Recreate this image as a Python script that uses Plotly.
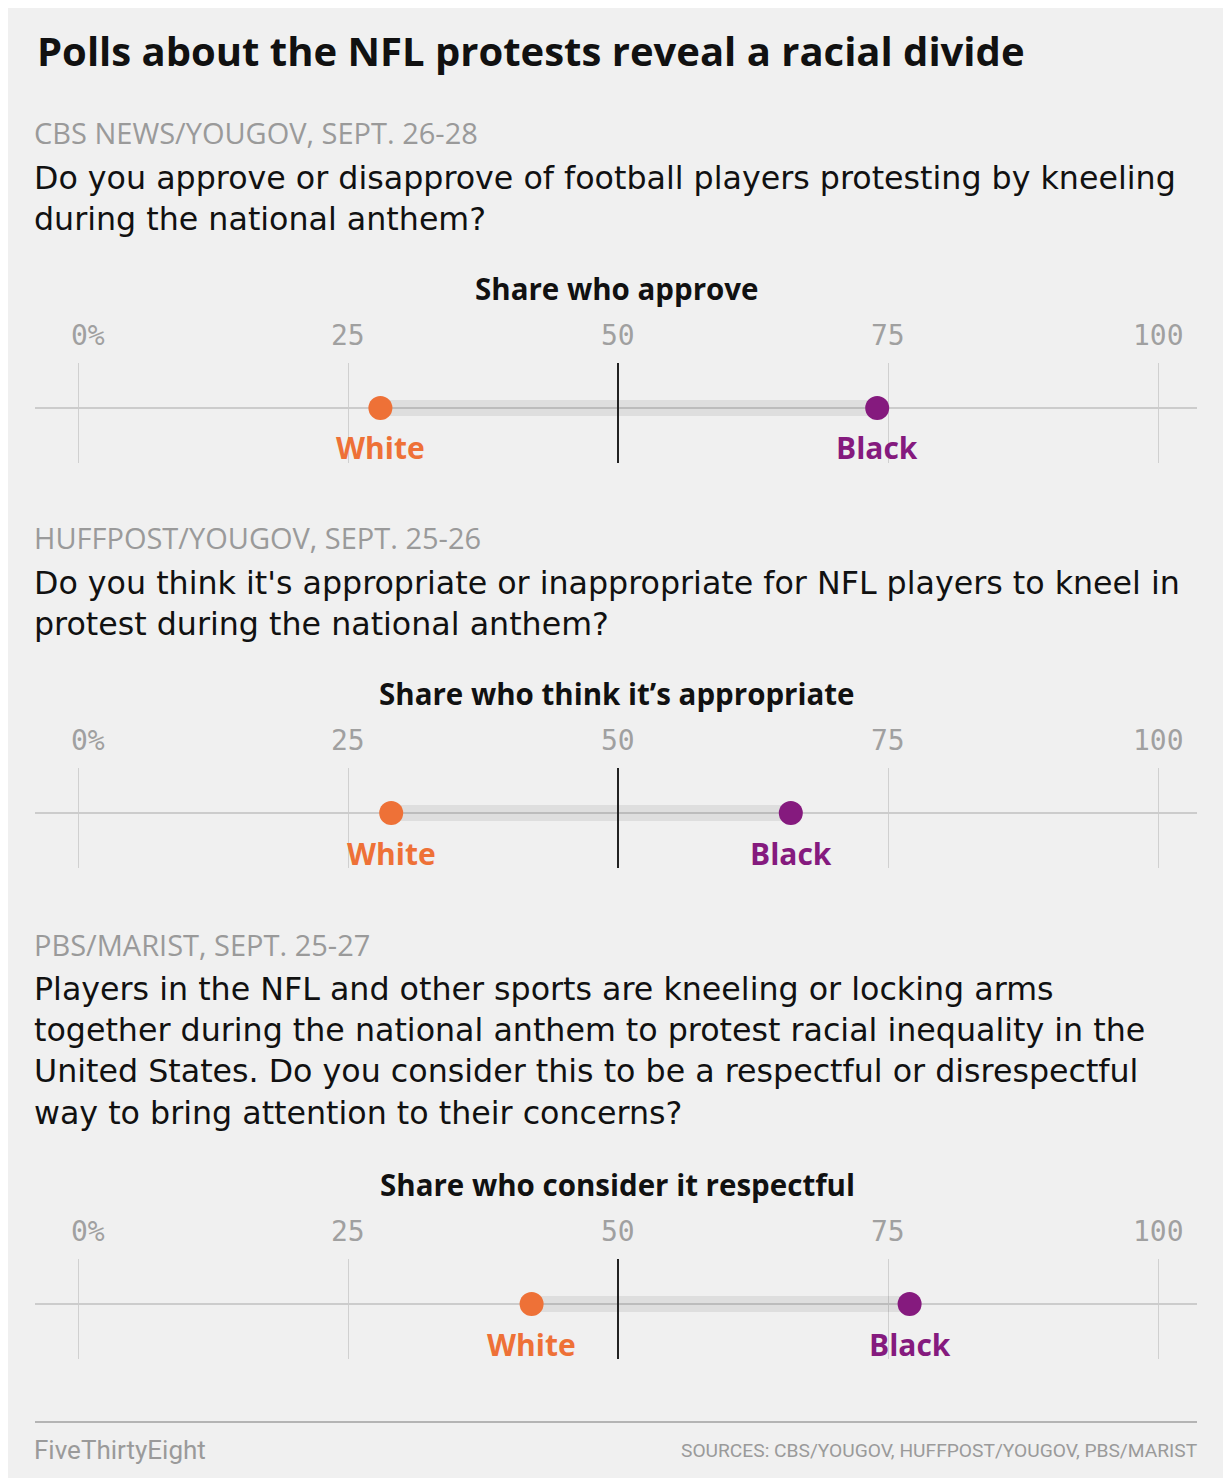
import plotly.graph_objects as go

# page is rendered with an 8px body margin; figure fills the rest of the window
OFF = 8
PAGE_W, PAGE_H = 1231, 1478
W, H = PAGE_W - OFF, PAGE_H - OFF

# ---------------- data ----------------
title = "Polls about the NFL protests reveal a racial divide"
sources = ["CBS NEWS/YOUGOV, SEPT. 26-28",
           "HUFFPOST/YOUGOV, SEPT. 25-26",
           "PBS/MARIST, SEPT. 25-27"]
questions = [
    ["Do you approve or disapprove of football players protesting by kneeling",
     "during the national anthem?"],
    ["Do you think it's appropriate or inappropriate for NFL players to kneel in",
     "protest during the national anthem?"],
    ["Players in the NFL and other sports are kneeling or locking arms",
     "together during the national anthem to protest racial inequality in the",
     "United States. Do you consider this to be a respectful or disrespectful",
     "way to bring attention to their concerns?"],
]
subtitles = ["Share who approve", "Share who think it\u2019s appropriate",
             "Share who consider it respectful"]
groups = ["White", "Black"]
white_share = [28, 29, 42]
black_share = [74, 66, 77]
tick_vals = [0, 25, 50, 75, 100]
tick_labels = ["0%", "25", "50", "75", "100"]
footer_left = "FiveThirtyEight"
footer_right = "SOURCES: CBS/YOUGOV, HUFFPOST/YOUGOV, PBS/MARIST"

# ---------------- style ----------------
BG = "#f0f0f0"
ORANGE = "#ee7137"
PURPLE = "#851a7e"
GRAY_TXT = "#9a9a9a"
TEXT_FONT = "Open Sans"
Q_FONT = "DejaVu Sans"
FOOT_FONT = "Roboto"
TICK_FONT = "DejaVu Sans Mono"


def fx(px):
    return (px - OFF) / W


def fy(py):
    return 1 - (py - OFF) / H


# pixel layout (page coords) of each section
sections = [
    dict(src=133, q=178, sub=288, tick=335, top=363),
    dict(src=538, q=583, sub=693, tick=740, top=768),
    dict(src=944, q=989, sub=1184, tick=1231, top=1259),
]
LINE_GAP = 41
GRID_H = 100

X0_PX, X100_PX = 78, 1158
PX_PER = (X100_PX - X0_PX) / 100.0
LEFT_PX, RIGHT_PX = 35, 1197
TEXT_X = 32

fig = go.Figure()
annotations = []
shapes = []

annotations.append(dict(text="<b>" + title + "</b>", x=fx(35), y=fy(50), xref="paper", yref="paper",
                        xanchor="left", yanchor="middle", showarrow=False,
                        font=dict(family=TEXT_FONT, size=40, color="#111")))

layout_axes = {}
for i, sec in enumerate(sections):
    n = i + 1
    xa = "x" if n == 1 else f"x{n}"
    ya = "y" if n == 1 else f"y{n}"
    top, bot = sec["top"], sec["top"] + GRID_H
    layout_axes[f"xaxis{'' if n == 1 else n}"] = dict(
        domain=[fx(LEFT_PX), fx(RIGHT_PX)],
        range=[(LEFT_PX - X0_PX) / PX_PER, (RIGHT_PX - X0_PX) / PX_PER],
        anchor=ya, tickmode="array", tickvals=tick_vals, showticklabels=False,
        ticks="", showgrid=True, gridcolor="#d0d0d0", gridwidth=1.2,
        zeroline=False, showline=False, fixedrange=True)
    layout_axes[f"yaxis{'' if n == 1 else n}"] = dict(
        domain=[fy(bot), fy(top)], range=[-1.1, 0.9], anchor=xa,
        showgrid=False, showticklabels=False, ticks="",
        zeroline=True, zerolinecolor="#cccccc", zerolinewidth=1.5,
        showline=False, fixedrange=True)

    # connecting bar
    fig.add_trace(go.Scatter(x=[white_share[i], black_share[i]], y=[0, 0], mode="lines",
                             line=dict(color="rgba(0,0,0,0.075)", width=16),
                             xaxis=xa, yaxis=ya, hoverinfo="skip", showlegend=False))
    # dots
    fig.add_trace(go.Scatter(x=[white_share[i]], y=[0], mode="markers", name=groups[0],
                             marker=dict(color=ORANGE, size=24, line=dict(width=0)),
                             xaxis=xa, yaxis=ya, showlegend=False))
    fig.add_trace(go.Scatter(x=[black_share[i]], y=[0], mode="markers", name=groups[1],
                             marker=dict(color=PURPLE, size=24, line=dict(width=0)),
                             xaxis=xa, yaxis=ya, showlegend=False))

    # 50% reference line
    shapes.append(dict(type="line", xref=xa, yref=f"{ya} domain", x0=50, x1=50, y0=0, y1=1,
                       line=dict(color="#222", width=2), layer="above"))

    # dot labels
    for val, lab, col in [(white_share[i], groups[0], ORANGE), (black_share[i], groups[1], PURPLE)]:
        annotations.append(dict(text="<b>" + lab + "</b>", x=val, y=0, xref=xa, yref=ya,
                                yshift=-40, xanchor="center", yanchor="middle", showarrow=False,
                                font=dict(family=TEXT_FONT, size=30, color=col)))

    # tick labels
    for tv, tl in zip(tick_vals, tick_labels):
        annotations.append(dict(text=tl, x=tv, y=fy(sec["tick"]), xref=xa, yref="paper",
                                xanchor="left" if tv == 0 else "center",
                                xshift=-9 if tv == 0 else 0,
                                yanchor="middle", showarrow=False,
                                font=dict(family=TICK_FONT, size=28, color="#a0a0a0")))

    # source line
    annotations.append(dict(text=sources[i], x=fx(TEXT_X), y=fy(sec["src"]), xref="paper", yref="paper",
                            xanchor="left", yanchor="middle", showarrow=False,
                            font=dict(family=TEXT_FONT, size=29, color=GRAY_TXT)))
    # question block (one text, wrapped as in the original)
    nlines = len(questions[i])
    annotations.append(dict(text="<br>".join(questions[i]), x=fx(TEXT_X),
                            y=fy(sec["q"] + (nlines - 1) * LINE_GAP / 2.0),
                            xref="paper", yref="paper", xanchor="left", yanchor="middle",
                            align="left", showarrow=False,
                            font=dict(family=Q_FONT, size=31.7, color="#111")))
    # subtitle
    annotations.append(dict(text="<b>" + subtitles[i] + "</b>", x=fx(617), y=fy(sec["sub"]),
                            xref="paper", yref="paper", xanchor="center", yanchor="middle",
                            showarrow=False,
                            font=dict(family=TEXT_FONT, size=29.5, color="#111")))

# footer
shapes.append(dict(type="line", xref="paper", yref="paper", x0=fx(35), x1=fx(1197),
                   y0=fy(1422), y1=fy(1422), line=dict(color="#b4b4b4", width=2)))
annotations.append(dict(text=footer_left, x=fx(TEXT_X), y=fy(1450), xref="paper", yref="paper",
                        xanchor="left", yanchor="middle", showarrow=False,
                        font=dict(family=FOOT_FONT, size=26, color=GRAY_TXT)))
annotations.append(dict(text=footer_right, x=fx(1200), y=fy(1450), xref="paper", yref="paper",
                        xanchor="right", yanchor="middle", showarrow=False,
                        font=dict(family=FOOT_FONT, size=19.2, color=GRAY_TXT)))

fig.update_layout(
    width=W, height=H, margin=dict(l=0, r=0, t=0, b=0),
    paper_bgcolor=BG, plot_bgcolor="rgba(0,0,0,0)",
    showlegend=False, annotations=annotations, shapes=shapes,
    **layout_axes)

fig.write_html("out.html")
